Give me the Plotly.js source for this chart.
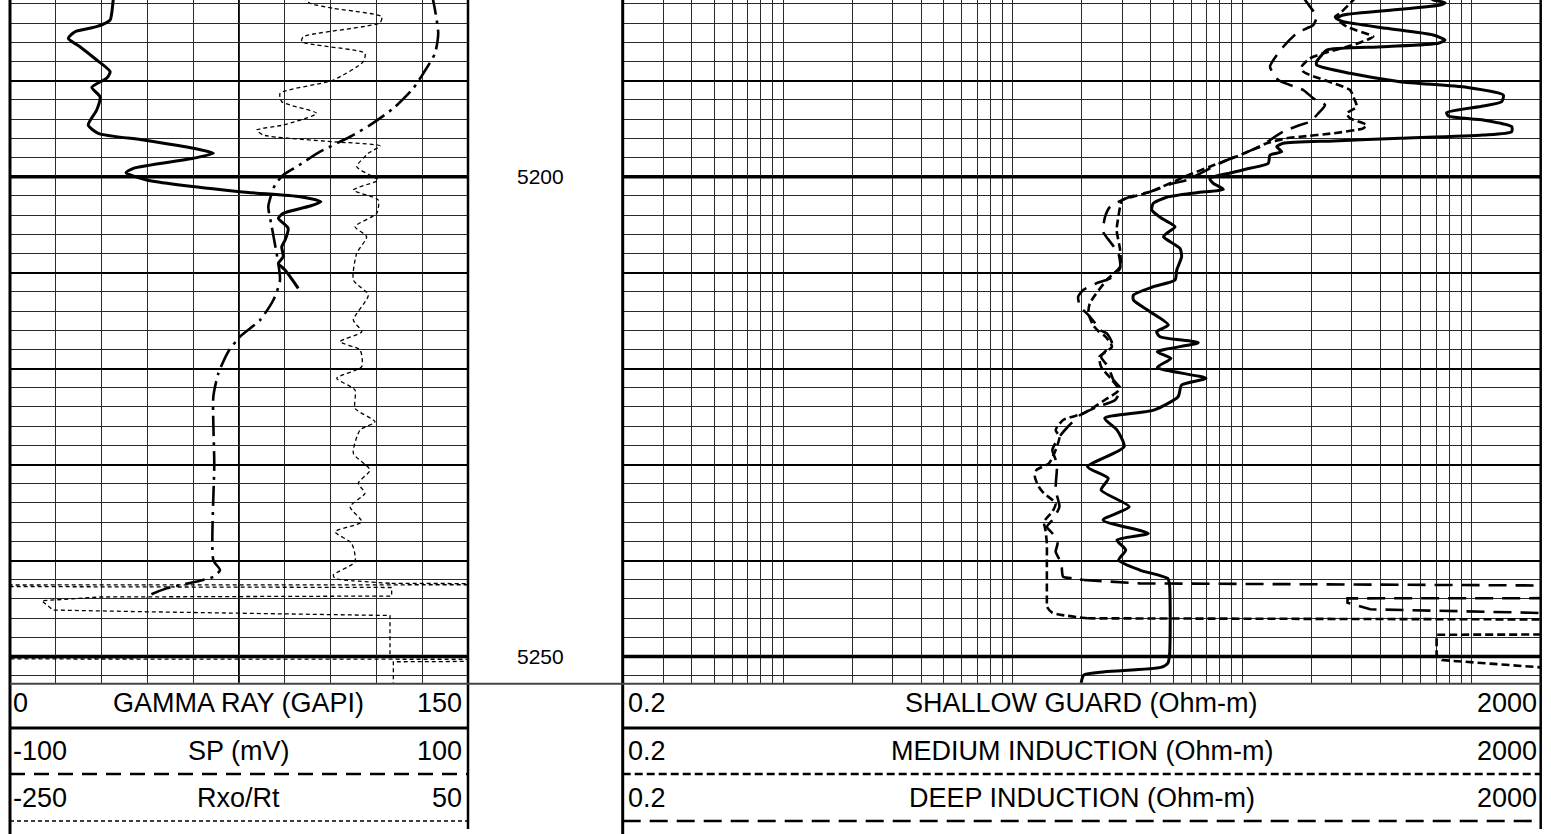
<!DOCTYPE html>
<html><head><meta charset="utf-8">
<script src="https://cdn.plot.ly/plotly-3.0.1.min.js"></script>
<style>html,body{margin:0;padding:0;background:#fff;}#chart{width:1551px;height:834px;}</style>
</head><body><div id="chart"></div>
<script>
// ---------------- DATA ----------------
const depthRange = [5252.73, 5181.59];
const depthLabels = [5200, 5250];

const grRange = [0, 150];
const spRange = [-100, 100];
const rxoRange = [-250, 50];
const resRange = [0.2, 2000];

const leftNames = ['GAMMA RAY (GAPI)', 'SP (mV)', 'Rxo/Rt'];
const leftMins = ['0', '-100', '-250'];
const leftMaxs = ['150', '100', '50'];
const rightNames = ['SHALLOW GUARD (Ohm-m)', 'MEDIUM INDUCTION (Ohm-m)', 'DEEP INDUCTION (Ohm-m)'];
const rightMins = ['0.2', '0.2', '0.2'];
const rightMaxs = ['2000', '2000', '2000'];

const grDepth = [5181.3, 5182.98, 5183.67, 5184.37, 5184.9, 5185.58, 5186.46, 5187.84, 5189.06, 5189.72, 5190.69, 5191.67, 5193.05, 5194.62, 5195.48, 5196.18, 5197.04, 5197.57, 5198.09, 5199.13, 5199.59, 5200.35, 5201.57, 5202.09, 5202.61, 5203.06, 5203.82, 5204.34, 5205.38, 5206.6, 5207.3, 5208.34, 5209.03, 5209.73, 5211.63];
const grValue = [33.9, 33.3, 32.8, 28.4, 21.3, 19.1, 22.9, 28.4, 32.8, 31.7, 26.8, 29.5, 28.4, 25.6, 28.9, 43.7, 60.0, 66.6, 60.0, 40.4, 38.0, 44.8, 75.3, 95.0, 101.8, 98.3, 89.5, 87.9, 91.1, 90.1, 89.0, 89.5, 87.9, 90.1, 94.4];

const spDepth = [5181.07, 5182.63, 5185.06, 5187.14, 5189.23, 5190.79, 5192.88, 5194.62, 5195.84, 5197.4, 5198.96, 5199.83, 5200.87, 5201.73, 5203.13, 5205.21, 5210.77, 5212.85, 5214.94, 5216.68, 5218.24, 5220.49, 5222.93, 5229.87, 5239.95, 5240.99, 5241.69, 5242.11, 5242.9, 5243.6, 5243.91];
const spValue = [84.3, 85.6, 87.0, 85.6, 80.5, 76.1, 67.4, 57.2, 48.5, 35.4, 25.2, 19.3, 15.7, 14.3, 12.8, 14.3, 17.9, 15.0, 9.2, 0.4, -4.7, -9.0, -11.2, -10.8, -11.2, -8.3, -11.2, -17.0, -31.6, -38.9, -40.2];

const rxoDepth = [5181.28, 5181.93, 5182.45, 5183.33, 5183.96, 5185.41, 5185.94, 5187.14, 5188.02, 5189.93, 5191.31, 5192.19, 5193.4, 5194.62, 5195.14, 5195.66, 5196.36, 5196.8, 5197.57, 5198.96, 5199.83, 5200.35, 5201.39, 5202.43, 5203.82, 5205.21, 5206.26, 5207.99, 5210.77, 5212.33, 5214.94, 5216.16, 5217.2, 5218.06, 5219.8, 5221.01, 5222.23, 5224.14, 5225.54, 5226.4, 5228.83, 5230.57, 5231.95, 5233.0, 5234.39, 5235.96, 5237.0, 5238.21, 5240.13, 5241.51, 5241.86, 5242.11, 5242.38];
const rxoValue = [-58.1, -53.5, -38.4, -6.5, -7.6, -57.9, -58.9, -17.5, -18.6, -38.2, -73.1, -72.0, -49.1, -71.0, -88.4, -84.1, -38.2, -7.6, -15.3, -22.9, -14.2, -8.8, -25.1, -8.8, -9.8, -24.0, -16.4, -22.9, -25.1, -15.3, -25.1, -19.6, -33.8, -20.7, -19.6, -36.0, -24.0, -24.0, -10.9, -20.7, -25.1, -14.2, -21.9, -17.5, -27.3, -19.6, -37.1, -26.2, -24.0, -38.2, -37.1, -25.3, 0.0];
const rxoTailDepth = [5242.38, 5242.5, 5242.58, 5242.81, 5243.7, 5243.8, 5244.19, 5245.16, 5245.34, 5245.73, 5250.06, 5250.21, 5250.32, 5250.55, 5253.5];
const rxoTailValue = [0.0, 300, -600, 0.0, 0.0, -191.0, -229.2, -221.8, -160.3, -1.1, -1.1, -600, 300, 1.1, 1.1];

const sgDepth = [5181.2, 5181.59, 5181.87, 5182.11, 5182.56, 5183.15, 5183.5, 5183.85, 5184.54, 5185.24, 5185.76, 5186.1, 5186.46, 5186.8, 5187.32, 5188.02, 5188.36, 5189.23, 5190.1, 5190.69, 5191.49, 5192.19, 5192.64, 5193.33, 5193.68, 5194.1, 5194.79, 5195.31, 5195.66, 5196.0, 5196.28, 5196.52, 5196.88, 5197.4, 5197.74, 5198.61, 5199.13, 5199.62, 5200.19, 5200.69, 5201.32, 5201.67, 5202.15, 5202.78, 5203.47, 5204.34, 5205.21, 5205.9, 5206.26, 5207.47, 5208.34, 5209.73, 5210.77, 5211.47, 5212.33, 5212.85, 5214.07, 5215.46, 5216.16, 5216.68, 5217.3, 5218.24, 5218.93, 5219.87, 5221.01, 5221.71, 5222.93, 5224.32, 5225.18, 5226.4, 5228.14, 5230.23, 5231.43, 5232.65, 5234.39, 5235.78, 5237.17, 5237.86, 5238.91, 5239.95, 5240.99, 5241.86, 5242.38, 5246.2, 5250.02, 5250.71, 5251.13, 5251.59, 5251.93, 5252.77, 5253.5];
const sgValue = [650, 680.8, 765.6, 728.3, 487.4, 276.0, 258.4, 276.0, 426.6, 680.8, 765.6, 715.8, 412.3, 233.6, 222.3, 211.3, 211.3, 295.2, 487.4, 951.9, 1374, 1352, 1124, 778.7, 791.3, 1124, 1495, 1495, 1124, 487.4, 249.7, 151.1, 141.5, 148.8, 132.3, 130.1, 108.2, 88.6, 72.4, 74.9, 82.8, 63.4, 46.9, 41.0, 40.4, 44.6, 51.0, 46.9, 45.4, 53.6, 54.5, 51.9, 51.0, 41.0, 33.6, 33.6, 39.7, 47.7, 42.4, 43.9, 64.4, 42.7, 49.0, 42.7, 69.6, 54.5, 52.6, 41.2, 25.2, 28.5, 30.6, 21.2, 26.1, 24.3, 32.2, 24.8, 39.0, 28.5, 31.1, 29.0, 35.8, 47.4, 48.2, 48.6, 48.2, 47.4, 44.2, 25.2, 20.4, 19.9, 19.9];

const medDepth = [5181.28, 5181.59, 5182.98, 5183.33, 5184.37, 5185.41, 5185.76, 5186.28, 5187.14, 5187.67, 5188.54, 5189.06, 5189.41, 5190.97, 5191.67, 5192.71, 5193.4, 5193.92, 5194.62, 5194.96, 5195.48, 5195.84, 5196.0, 5196.52, 5197.57, 5198.96, 5199.83, 5201.57, 5202.09, 5202.43, 5203.13, 5204.17, 5205.56, 5207.64, 5209.38, 5210.77, 5213.2, 5214.24, 5215.46, 5216.08, 5216.6, 5217.72, 5218.76, 5219.8, 5221.19, 5222.23, 5223.27, 5224.66, 5225.36, 5226.4, 5227.1, 5228.48, 5229.87, 5230.57, 5231.27, 5232.31, 5233.0, 5234.04, 5234.91, 5235.96, 5236.82, 5238.21, 5239.95, 5244.46, 5244.81, 5245.44, 5246.02];
const medValue = [313.6, 305.1, 267.0, 253.9, 285.6, 372.9, 349.0, 305.1, 225.8, 197.6, 181.8, 184.8, 197.6, 295.2, 305.1, 315.8, 285.6, 295.2, 349.0, 337.3, 249.7, 178.8, 156.4, 128.0, 102.4, 72.2, 58.5, 39.8, 33.4, 30.0, 29.4, 28.9, 28.4, 29.4, 29.4, 25.7, 21.7, 21.4, 22.4, 23.6, 25.2, 27.1, 23.9, 24.3, 27.1, 29.0, 25.2, 20.4, 16.6, 15.4, 16.0, 15.4, 14.4, 12.7, 12.5, 13.0, 13.7, 15.4, 14.9, 13.7, 13.9, 14.1, 14.1, 14.1, 14.1, 14.9, 21.2];
const medTailDepth = [5246.02, 5246.23, 5246.3, 5247.6, 5247.66, 5247.73, 5249.85, 5250.37, 5251.08, 5251.13, 5251.2];
const medTailValue = [21.2, 2000, 1e6, 1e6, 2000, 703.8, 703.8, 741.5, 1870, 2000, 1e6];

const deepDepth = [5181.28, 5182.29, 5183.33, 5184.2, 5184.54, 5185.06, 5186.46, 5187.84, 5188.54, 5189.93, 5190.97, 5191.83, 5192.53, 5193.4, 5194.27, 5194.62, 5195.31, 5196.18, 5196.88, 5197.57, 5198.61, 5199.31, 5200.35, 5200.69, 5201.57, 5202.09, 5203.13, 5204.17, 5205.74, 5206.78, 5207.99, 5209.55, 5210.59, 5211.11, 5211.81, 5212.51, 5213.55, 5214.42, 5215.28, 5215.98, 5216.32, 5217.37, 5218.76, 5219.8, 5221.19, 5222.06, 5223.27, 5223.97, 5224.84, 5226.06, 5227.1, 5228.48, 5229.87, 5232.65, 5234.39, 5235.78, 5236.48, 5237.17, 5238.21, 5239.08, 5240.29, 5241.69, 5241.86, 5242.03];
const deepValue = [184.2, 197.6, 211.3, 204.2, 191.1, 172.9, 151.1, 136.8, 132.3, 143.8, 184.8, 204.2, 229.7, 214.7, 197.6, 178.8, 151.1, 132.3, 119.7, 101.2, 80.1, 70.1, 57.4, 50.1, 39.7, 32.5, 26.6, 25.3, 24.8, 26.6, 28.9, 29.4, 26.6, 23.2, 20.3, 19.3, 19.7, 21.4, 22.9, 24.0, 25.7, 27.1, 24.3, 26.1, 27.5, 29.5, 28.0, 23.5, 19.7, 17.4, 16.0, 14.9, 15.6, 15.4, 16.0, 14.9, 14.1, 14.9, 15.7, 15.4, 16.3, 16.6, 18.4, 20.4];
const deepTailDepth = [5242.03, 5242.38, 5242.6, 5242.66, 5243.86, 5243.91, 5243.94, 5244.4, 5244.74, 5245.08, 5245.44, 5245.47, 5245.57];
const deepTailValue = [20.4, 35.8, 2000, 1e6, 1e6, 2000, 287.9, 287.9, 325.7, 361.5, 1815, 2000, 1e6];

// ---------------- LAYOUT GEOMETRY ----------------
const W = 1551, H = 834;
const px = x => x / W, py = y => 1 - y / H;
const FONT = 'Liberation Sans, Arial, Helvetica, sans-serif';
const L0 = 10, L1 = 468, R0 = 622.7, R1 = 1540.7, PB = 682.7;
const rowY = [703, 751, 798];
const lineY = [728, 774, 821];

const STY = {
  gr: {color: '#000', width: 3, dash: 'solid'},
  sp: {color: '#000', width: 2.6, dash: '20px,6px,3px,6px'},
  spKey: {color: '#000', width: 2.6, dash: '15px,9px'},
  rxo: {color: '#000', width: 1.3, dash: '4px,3px'},
  sg: {color: '#000', width: 3, dash: 'solid'},
  med: {color: '#000', width: 2.6, dash: '8px,4px'},
  deep: {color: '#000', width: 2.6, dash: '18px,9px'}
};

function tr(x, y, xa, ya, st, spline) {
  return {type: 'scatter', mode: 'lines', x: x, y: y, xaxis: xa, yaxis: ya,
    hoverinfo: 'skip', showlegend: false,
    line: Object.assign({}, st, spline ? {shape: 'spline', smoothing: 0.6} : {shape: 'linear'})};
}

const data = [
  tr(grValue, grDepth, 'x', 'y', STY.gr, true),
  tr(spValue, spDepth, 'x3', 'y', STY.sp, true),
  tr(rxoValue, rxoDepth, 'x4', 'y', STY.rxo, true),
  tr(rxoTailValue, rxoTailDepth, 'x4', 'y', STY.rxo, false),
  tr(sgValue, sgDepth, 'x2', 'y2', STY.sg, true),
  tr(medValue, medDepth, 'x2', 'y2', STY.med, true),
  tr(medTailValue, medTailDepth, 'x2', 'y2', STY.med, false),
  tr(deepValue, deepDepth, 'x2', 'y2', STY.deep, true),
  tr(deepTailValue, deepTailDepth, 'x2', 'y2', STY.deep, false)
];

const hidden = {showgrid: false, zeroline: false, showticklabels: false, ticks: '', showline: false, fixedrange: true};
const yBase = Object.assign({}, hidden, {
  domain: [py(PB), 1], range: depthRange, tick0: 5200, dtick: 10,
  showgrid: true, gridcolor: '#000', gridwidth: 2,
  minor: {tick0: 5200, dtick: 2, showgrid: true, gridcolor: '#2a2a2a', gridwidth: 1}
});

const shapes = [];
depthLabels.forEach(d => {
  shapes.push({type: 'line', xref: 'x domain', x0: 0, x1: 1, yref: 'y', y0: d, y1: d, layer: 'below', line: {color: '#000', width: 3.5}});
  shapes.push({type: 'line', xref: 'x2 domain', x0: 0, x1: 1, yref: 'y2', y0: d, y1: d, layer: 'below', line: {color: '#000', width: 3.5}});
});
shapes.push({type: 'line', xref: 'x', x0: (grRange[0] + grRange[1]) / 2, x1: (grRange[0] + grRange[1]) / 2, yref: 'y domain', y0: 0, y1: 1, layer: 'below', line: {color: '#000', width: 2}});
function pl(x0, y0, x1, y1, w, dash, color) {
  shapes.push({type: 'line', xref: 'paper', yref: 'paper', x0: px(x0), x1: px(x1), y0: py(y0), y1: py(y1),
    line: {color: color || '#000', width: w, dash: dash || 'solid'}});
}
// borders
pl(L0, 0, L0, H, 3);
pl(L1, 0, L1, 829, 2.5);
pl(R0, 0, R0, H, 3);
pl(R1, 0, R1, 829, 2.5);
pl(L0, PB + 1, R1, PB + 1, 2, 'solid', '#444');
// header key lines
pl(L0, lineY[0], L1, lineY[0], 3, STY.gr.dash);
pl(L0, lineY[1], L1, lineY[1], STY.spKey.width, STY.spKey.dash);
pl(L0, lineY[2], L1, lineY[2], STY.rxo.width, STY.rxo.dash);
pl(R0, lineY[0], R1, lineY[0], 3, STY.sg.dash);
pl(R0, lineY[1], R1, lineY[1], STY.med.width, STY.med.dash);
pl(R0, lineY[2], R1, lineY[2], STY.deep.width, STY.deep.dash);

const annotations = [];
const hf = {family: FONT, size: 27, color: '#000'};
function ann(text, x, y, xanchor, font) {
  annotations.push({text: text, xref: 'paper', yref: 'paper', x: px(x), y: py(y), xanchor: xanchor, yanchor: 'middle', showarrow: false, font: font, borderpad: 0});
}
for (let i = 0; i < 3; i++) {
  ann(leftMins[i], L0 + 2, rowY[i], 'left', hf);
  ann(leftNames[i], (L0 + L1) / 2, rowY[i], 'center', hf);
  ann(leftMaxs[i], L1 - 5, rowY[i], 'right', hf);
  ann(rightMins[i], R0 + 4, rowY[i], 'left', hf);
  ann(rightNames[i], (R0 + R1) / 2, rowY[i], 'center', hf);
  ann(rightMaxs[i], R1 - 3, rowY[i], 'right', hf);
}
depthLabels.forEach(d => {
  annotations.push({text: String(d), xref: 'paper', x: px(540), yref: 'y', y: d, xanchor: 'center', yanchor: 'middle', showarrow: false, font: {family: FONT, size: 21, color: '#000'}});
});

const layout = {
  width: W, height: H, autosize: false,
  margin: {l: 0, r: 0, t: 0, b: 0, pad: 0},
  paper_bgcolor: '#fff', plot_bgcolor: '#fff', showlegend: false,
  xaxis: Object.assign({}, hidden, {domain: [px(L0), px(L1)], range: grRange, anchor: 'y', tick0: 0, dtick: 15, showgrid: true, gridcolor: '#2a2a2a', gridwidth: 1}),
  xaxis3: Object.assign({}, hidden, {overlaying: 'x', anchor: 'y', range: spRange, visible: false}),
  xaxis4: Object.assign({}, hidden, {overlaying: 'x', anchor: 'y', range: rxoRange, visible: false}),
  xaxis2: Object.assign({}, hidden, {domain: [px(R0), px(R1)], type: 'log', range: [Math.log10(resRange[0]), Math.log10(resRange[1])], anchor: 'y2', dtick: 'D1', showgrid: true, gridcolor: '#2a2a2a', gridwidth: 1}),
  yaxis: Object.assign({}, yBase, {anchor: 'x'}),
  yaxis2: Object.assign({}, yBase, {anchor: 'x2', matches: 'y'}),
  shapes: shapes,
  annotations: annotations,
  font: {family: FONT, color: '#000'}
};

Plotly.newPlot('chart', data, layout, {displayModeBar: false, staticPlot: true});
</script></body></html>
